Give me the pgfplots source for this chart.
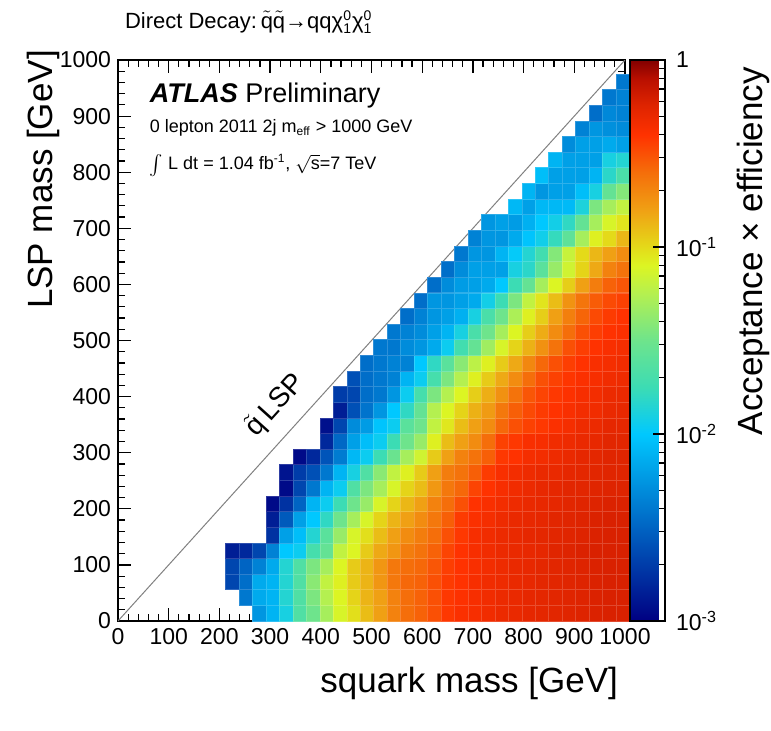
\documentclass[border=0pt]{standalone}
\usepackage{fontspec}
\setmainfont{Liberation Sans}
\setsansfont{Liberation Sans}
\usepackage{pgfplots}
\pgfplotsset{compat=1.18}
\usetikzlibrary{calc}

% position = 100*(log10(value)+3)
\pgfplotsset{
  colormap={atlas}{rgb255(0pt)=(0,0,130); rgb255(50pt)=(0,100,195); rgb255(100pt)=(0,200,255);
    rgb255(125pt)=(60,220,180); rgb255(150pt)=(110,228,140); rgb255(175pt)=(180,240,80);
    rgb255(190pt)=(220,245,35); rgb255(200pt)=(228,218,25); rgb255(220pt)=(240,160,20);
    rgb255(240pt)=(245,110,10); rgb255(260pt)=(255,50,0); rgb255(276pt)=(222,36,0);
    rgb255(290pt)=(185,15,0); rgb255(300pt)=(130,0,0)}
}
% one histogram bin: 26.55 GeV x 27.86 GeV
\pgfdeclareplotmark{cell}{%
  \pgfpathrectangle{\pgfqpoint{-3.366pt}{-3.908pt}}{\pgfqpoint{6.732pt}{7.816pt}}%
  \pgfusepathqfillstroke}

\newcommand{\ninoz}{$\mbox{χ}^{\mbox{\scriptsize 0}}_{\mbox{\scriptsize 1}}$}

\begin{document}
\begin{tikzpicture}
\begin{axis}[
    name=ax,
    scale only axis,
    width=253.5pt, height=280.5pt,
    xmin=0, xmax=1000, ymin=0, ymax=1000,
    xtick={0,100,...,1000}, ytick={0,100,...,1000},
    minor x tick num=4, minor y tick num=4,
    tick align=inside,
    major tick length=6.5pt, minor tick length=3.5pt,
    axis line style={line width=0.8pt},
    every tick/.style={black, line width=0.6pt},
    tick label style={font=\fontsize{11.5}{13}\selectfont},
    /pgf/number format/assume math mode=true,
    /pgf/number format/1000 sep={},
    colormap name=atlas,
    point meta min=-3, point meta max=0,
    colorbar,
    colorbar style={
        width=17.5pt,
        at={(parent axis.north east)}, anchor=north west, xshift=-6pt,
        axis on top,
        ytick={-3,-2,-1,0},
        yticklabels={10\textsuperscript{-3},10\textsuperscript{-2},10\textsuperscript{-1},1},
        minor ytick={-2.699,-2.523,-2.398,-2.301,-2.222,-2.155,-2.097,-2.046,
                     -1.699,-1.523,-1.398,-1.301,-1.222,-1.155,-1.097,-1.046,
                     -0.699,-0.523,-0.398,-0.301,-0.222,-0.155,-0.097,-0.046},
        ytick pos=right,
        tick align=inside,
        major tick length=6pt, minor tick length=3pt,
        every tick/.style={black, line width=0.6pt},
        yticklabel style={font=\fontsize{11.5}{13}\selectfont, xshift=2pt},
        axis line style={line width=0.6pt},
    },
    after end axis/.code={
        \node[anchor=base west, font=\fontsize{11}{13}\selectfont] at (rel axis cs:0,1.057)
            {Direct Decay:\,$\tilde{\mbox{q}}\tilde{\mbox{q}}$→qq\ninoz\ninoz};
        \node[anchor=base west] at (rel axis cs:0.049,0.925)
            {\fontsize{13.5}{15}\selectfont\textbf{\textit{ATLAS}} Preliminary};
        \node[anchor=base west, font=\fontsize{9}{11}\selectfont] at (rel axis cs:0.049,0.87)
            {0 lepton 2011 2j m\textsubscript{eff} > 1000 GeV};
        \node[anchor=base west, font=\fontsize{9}{11}\selectfont] at (rel axis cs:0.049,0.804)
            {$\int$ L dt = 1.04 fb\textsuperscript{-1}, $\sqrt{\mbox{s}}$=7 TeV};
        \node[rotate=47.9, font=\fontsize{14}{16}\selectfont] at (rel axis cs:0.31,0.385)
            {$\tilde{\mbox{q}}$\,LSP};
        \node[anchor=base east, font=\fontsize{17.5}{20}\selectfont] at (rel axis cs:1,-0.127)
            {squark mass [GeV]};
        \node[anchor=base east, rotate=90, font=\fontsize{17.5}{20}\selectfont] at (rel axis cs:-0.13,1.03)
            {LSP mass [GeV]};
        \node[anchor=base east, rotate=90, font=\fontsize{17.5}{20}\selectfont] at (rel axis cs:1.272,1)
            {Acceptance × efficiency};
    },
]

% columns: x bin centres, rows: y bin centres, v = log10(acceptance x efficiency)
\addplot[scatter, only marks, mark=cell, point meta=explicit,
    scatter/use mapped color={draw=mapped color!82!white, fill=mapped color},
    mark options={line width=0.3pt}]
    table[x=x, y=y, meta=v, row sep=\\] {
x y v\\
278.8 13.9 -2.25\\ 305.3 13.9 -2.10\\ 331.9 13.9 -1.90\\ 358.4 13.9 -1.65\\ 385.0 13.9 -1.50\\ 411.5 13.9 -1.30\\ 438.1 13.9 -1.12\\ 464.6 13.9 -1.02\\ 491.2 13.9 -0.90\\ 517.7 13.9 -0.80\\ 544.3 13.9 -0.68\\ 570.8 13.9 -0.60\\ 597.4 13.9 -0.56\\ 623.9 13.9 -0.50\\ 650.5 13.9 -0.42\\ 677.0 13.9 -0.38\\ 703.6 13.9 -0.36\\ 730.1 13.9 -0.33\\ 756.7 13.9 -0.31\\ 783.2 13.9 -0.30\\ 809.8 13.9 -0.28\\ 836.3 13.9 -0.27\\ 862.9 13.9 -0.26\\ 889.4 13.9 -0.25\\ 916.0 13.9 -0.24\\ 942.5 13.9 -0.23\\ 969.1 13.9 -0.22\\ 995.6 13.9 -0.22\\
252.2 41.8 -2.40\\ 278.8 41.8 -2.15\\ 305.3 41.8 -2.10\\ 331.9 41.8 -1.85\\ 358.4 41.8 -1.65\\ 385.0 41.8 -1.45\\ 411.5 41.8 -1.25\\ 438.1 41.8 -1.10\\ 464.6 41.8 -0.98\\ 491.2 41.8 -0.87\\ 517.7 41.8 -0.80\\ 544.3 41.8 -0.68\\ 570.8 41.8 -0.60\\ 597.4 41.8 -0.56\\ 623.9 41.8 -0.50\\ 650.5 41.8 -0.42\\ 677.0 41.8 -0.39\\ 703.6 41.8 -0.36\\ 730.1 41.8 -0.33\\ 756.7 41.8 -0.31\\ 783.2 41.8 -0.30\\ 809.8 41.8 -0.28\\ 836.3 41.8 -0.27\\ 862.9 41.8 -0.26\\ 889.4 41.8 -0.25\\ 916.0 41.8 -0.24\\ 942.5 41.8 -0.23\\ 969.1 41.8 -0.22\\ 995.6 41.8 -0.22\\
225.7 69.7 -2.65\\ 252.2 69.7 -2.45\\ 278.8 69.7 -2.15\\ 305.3 69.7 -2.10\\ 331.9 69.7 -1.85\\ 358.4 69.7 -1.65\\ 385.0 69.7 -1.40\\ 411.5 69.7 -1.20\\ 438.1 69.7 -1.08\\ 464.6 69.7 -0.95\\ 491.2 69.7 -0.87\\ 517.7 69.7 -0.76\\ 544.3 69.7 -0.64\\ 570.8 69.7 -0.58\\ 597.4 69.7 -0.56\\ 623.9 69.7 -0.50\\ 650.5 69.7 -0.43\\ 677.0 69.7 -0.40\\ 703.6 69.7 -0.36\\ 730.1 69.7 -0.33\\ 756.7 69.7 -0.32\\ 783.2 69.7 -0.30\\ 809.8 69.7 -0.29\\ 836.3 69.7 -0.27\\ 862.9 69.7 -0.26\\ 889.4 69.7 -0.25\\ 916.0 69.7 -0.24\\ 942.5 69.7 -0.23\\ 969.1 69.7 -0.22\\ 995.6 69.7 -0.22\\
225.7 97.5 -2.65\\ 252.2 97.5 -2.50\\ 278.8 97.5 -2.35\\ 305.3 97.5 -2.15\\ 331.9 97.5 -1.85\\ 358.4 97.5 -1.65\\ 385.0 97.5 -1.45\\ 411.5 97.5 -1.30\\ 438.1 97.5 -1.10\\ 464.6 97.5 -0.95\\ 491.2 97.5 -0.87\\ 517.7 97.5 -0.76\\ 544.3 97.5 -0.64\\ 570.8 97.5 -0.60\\ 597.4 97.5 -0.58\\ 623.9 97.5 -0.52\\ 650.5 97.5 -0.44\\ 677.0 97.5 -0.40\\ 703.6 97.5 -0.37\\ 730.1 97.5 -0.34\\ 756.7 97.5 -0.32\\ 783.2 97.5 -0.30\\ 809.8 97.5 -0.29\\ 836.3 97.5 -0.27\\ 862.9 97.5 -0.26\\ 889.4 97.5 -0.25\\ 916.0 97.5 -0.24\\ 942.5 97.5 -0.23\\ 969.1 97.5 -0.22\\ 995.6 97.5 -0.22\\
225.7 125.4 -2.85\\ 252.2 125.4 -2.80\\ 278.8 125.4 -2.65\\ 305.3 125.4 -2.35\\ 331.9 125.4 -2.00\\ 358.4 125.4 -1.95\\ 385.0 125.4 -1.70\\ 411.5 125.4 -1.55\\ 438.1 125.4 -1.20\\ 464.6 125.4 -1.10\\ 491.2 125.4 -0.95\\ 517.7 125.4 -0.83\\ 544.3 125.4 -0.76\\ 570.8 125.4 -0.66\\ 597.4 125.4 -0.62\\ 623.9 125.4 -0.56\\ 650.5 125.4 -0.46\\ 677.0 125.4 -0.40\\ 703.6 125.4 -0.36\\ 730.1 125.4 -0.33\\ 756.7 125.4 -0.31\\ 783.2 125.4 -0.30\\ 809.8 125.4 -0.29\\ 836.3 125.4 -0.28\\ 862.9 125.4 -0.25\\ 889.4 125.4 -0.24\\ 916.0 125.4 -0.23\\ 942.5 125.4 -0.22\\ 969.1 125.4 -0.22\\ 995.6 125.4 -0.22\\
305.3 153.2 -2.75\\ 331.9 153.2 -2.20\\ 358.4 153.2 -2.05\\ 385.0 153.2 -1.85\\ 411.5 153.2 -1.60\\ 438.1 153.2 -1.35\\ 464.6 153.2 -1.12\\ 491.2 153.2 -1.02\\ 517.7 153.2 -0.90\\ 544.3 153.2 -0.80\\ 570.8 153.2 -0.72\\ 597.4 153.2 -0.66\\ 623.9 153.2 -0.60\\ 650.5 153.2 -0.50\\ 677.0 153.2 -0.42\\ 703.6 153.2 -0.36\\ 730.1 153.2 -0.33\\ 756.7 153.2 -0.31\\ 783.2 153.2 -0.30\\ 809.8 153.2 -0.28\\ 836.3 153.2 -0.27\\ 862.9 153.2 -0.26\\ 889.4 153.2 -0.25\\ 916.0 153.2 -0.24\\ 942.5 153.2 -0.23\\ 969.1 153.2 -0.22\\ 995.6 153.2 -0.22\\
305.3 181.1 -2.85\\ 331.9 181.1 -2.55\\ 358.4 181.1 -2.20\\ 385.0 181.1 -2.00\\ 411.5 181.1 -1.80\\ 438.1 181.1 -1.50\\ 464.6 181.1 -1.30\\ 491.2 181.1 -1.12\\ 517.7 181.1 -0.98\\ 544.3 181.1 -0.87\\ 570.8 181.1 -0.80\\ 597.4 181.1 -0.72\\ 623.9 181.1 -0.64\\ 650.5 181.1 -0.55\\ 677.0 181.1 -0.43\\ 703.6 181.1 -0.38\\ 730.1 181.1 -0.35\\ 756.7 181.1 -0.32\\ 783.2 181.1 -0.30\\ 809.8 181.1 -0.29\\ 836.3 181.1 -0.28\\ 862.9 181.1 -0.26\\ 889.4 181.1 -0.25\\ 916.0 181.1 -0.24\\ 942.5 181.1 -0.23\\ 969.1 181.1 -0.22\\ 995.6 181.1 -0.22\\
305.3 208.9 -2.95\\ 331.9 208.9 -2.75\\ 358.4 208.9 -2.50\\ 385.0 208.9 -2.10\\ 411.5 208.9 -1.95\\ 438.1 208.9 -1.75\\ 464.6 208.9 -1.50\\ 491.2 208.9 -1.35\\ 517.7 208.9 -1.12\\ 544.3 208.9 -0.98\\ 570.8 208.9 -0.88\\ 597.4 208.9 -0.80\\ 623.9 208.9 -0.68\\ 650.5 208.9 -0.60\\ 677.0 208.9 -0.50\\ 703.6 208.9 -0.40\\ 730.1 208.9 -0.37\\ 756.7 208.9 -0.34\\ 783.2 208.9 -0.32\\ 809.8 208.9 -0.30\\ 836.3 208.9 -0.29\\ 862.9 208.9 -0.28\\ 889.4 208.9 -0.26\\ 916.0 208.9 -0.25\\ 942.5 208.9 -0.24\\ 969.1 208.9 -0.23\\ 995.6 208.9 -0.23\\
331.9 236.8 -2.95\\ 358.4 236.8 -2.65\\ 385.0 236.8 -2.40\\ 411.5 236.8 -2.10\\ 438.1 236.8 -1.95\\ 464.6 236.8 -1.65\\ 491.2 236.8 -1.45\\ 517.7 236.8 -1.30\\ 544.3 236.8 -1.12\\ 570.8 236.8 -0.98\\ 597.4 236.8 -0.90\\ 623.9 236.8 -0.77\\ 650.5 236.8 -0.64\\ 677.0 236.8 -0.58\\ 703.6 236.8 -0.46\\ 730.1 236.8 -0.40\\ 756.7 236.8 -0.36\\ 783.2 236.8 -0.33\\ 809.8 236.8 -0.31\\ 836.3 236.8 -0.29\\ 862.9 236.8 -0.28\\ 889.4 236.8 -0.26\\ 916.0 236.8 -0.26\\ 942.5 236.8 -0.25\\ 969.1 236.8 -0.24\\ 995.6 236.8 -0.24\\
331.9 264.7 -2.90\\ 358.4 264.7 -2.70\\ 385.0 264.7 -2.60\\ 411.5 264.7 -2.40\\ 438.1 264.7 -2.10\\ 464.6 264.7 -1.90\\ 491.2 264.7 -1.65\\ 517.7 264.7 -1.40\\ 544.3 264.7 -1.20\\ 570.8 264.7 -1.08\\ 597.4 264.7 -0.95\\ 623.9 264.7 -0.80\\ 650.5 264.7 -0.66\\ 677.0 264.7 -0.62\\ 703.6 264.7 -0.55\\ 730.1 264.7 -0.43\\ 756.7 264.7 -0.37\\ 783.2 264.7 -0.34\\ 809.8 264.7 -0.32\\ 836.3 264.7 -0.30\\ 862.9 264.7 -0.30\\ 889.4 264.7 -0.28\\ 916.0 264.7 -0.27\\ 942.5 264.7 -0.26\\ 969.1 264.7 -0.25\\ 995.6 264.7 -0.25\\
358.4 292.5 -2.95\\ 385.0 292.5 -2.80\\ 411.5 292.5 -2.58\\ 438.1 292.5 -2.38\\ 464.6 292.5 -2.08\\ 491.2 292.5 -1.95\\ 517.7 292.5 -1.75\\ 544.3 292.5 -1.52\\ 570.8 292.5 -1.30\\ 597.4 292.5 -1.15\\ 623.9 292.5 -0.95\\ 650.5 292.5 -0.80\\ 677.0 292.5 -0.68\\ 703.6 292.5 -0.62\\ 730.1 292.5 -0.55\\ 756.7 292.5 -0.42\\ 783.2 292.5 -0.40\\ 809.8 292.5 -0.35\\ 836.3 292.5 -0.34\\ 862.9 292.5 -0.32\\ 889.4 292.5 -0.30\\ 916.0 292.5 -0.28\\ 942.5 292.5 -0.27\\ 969.1 292.5 -0.25\\ 995.6 292.5 -0.25\\
411.5 320.4 -2.80\\ 438.1 320.4 -2.48\\ 464.6 320.4 -2.20\\ 491.2 320.4 -2.05\\ 517.7 320.4 -1.95\\ 544.3 320.4 -1.75\\ 570.8 320.4 -1.50\\ 597.4 320.4 -1.35\\ 623.9 320.4 -1.08\\ 650.5 320.4 -0.90\\ 677.0 320.4 -0.80\\ 703.6 320.4 -0.72\\ 730.1 320.4 -0.60\\ 756.7 320.4 -0.45\\ 783.2 320.4 -0.42\\ 809.8 320.4 -0.37\\ 836.3 320.4 -0.36\\ 862.9 320.4 -0.33\\ 889.4 320.4 -0.32\\ 916.0 320.4 -0.30\\ 942.5 320.4 -0.29\\ 969.1 320.4 -0.26\\ 995.6 320.4 -0.26\\
411.5 348.2 -2.92\\ 438.1 348.2 -2.65\\ 464.6 348.2 -2.30\\ 491.2 348.2 -2.22\\ 517.7 348.2 -2.02\\ 544.3 348.2 -1.95\\ 570.8 348.2 -1.60\\ 597.4 348.2 -1.50\\ 623.9 348.2 -1.20\\ 650.5 348.2 -1.05\\ 677.0 348.2 -0.90\\ 703.6 348.2 -0.80\\ 730.1 348.2 -0.72\\ 756.7 348.2 -0.58\\ 783.2 348.2 -0.50\\ 809.8 348.2 -0.45\\ 836.3 348.2 -0.42\\ 862.9 348.2 -0.38\\ 889.4 348.2 -0.35\\ 916.0 348.2 -0.32\\ 942.5 348.2 -0.31\\ 969.1 348.2 -0.28\\ 995.6 348.2 -0.28\\
438.1 376.1 -2.85\\ 464.6 376.1 -2.60\\ 491.2 376.1 -2.42\\ 517.7 376.1 -2.25\\ 544.3 376.1 -2.00\\ 570.8 376.1 -1.80\\ 597.4 376.1 -1.55\\ 623.9 376.1 -1.25\\ 650.5 376.1 -1.10\\ 677.0 376.1 -0.98\\ 703.6 376.1 -0.86\\ 730.1 376.1 -0.78\\ 756.7 376.1 -0.64\\ 783.2 376.1 -0.55\\ 809.8 376.1 -0.48\\ 836.3 376.1 -0.43\\ 862.9 376.1 -0.40\\ 889.4 376.1 -0.37\\ 916.0 376.1 -0.34\\ 942.5 376.1 -0.33\\ 969.1 376.1 -0.30\\ 995.6 376.1 -0.29\\
438.1 404.0 -2.70\\ 464.6 404.0 -2.65\\ 491.2 404.0 -2.45\\ 517.7 404.0 -2.40\\ 544.3 404.0 -2.25\\ 570.8 404.0 -1.95\\ 597.4 404.0 -1.70\\ 623.9 404.0 -1.45\\ 650.5 404.0 -1.25\\ 677.0 404.0 -1.10\\ 703.6 404.0 -0.96\\ 730.1 404.0 -0.85\\ 756.7 404.0 -0.74\\ 783.2 404.0 -0.62\\ 809.8 404.0 -0.52\\ 836.3 404.0 -0.46\\ 862.9 404.0 -0.42\\ 889.4 404.0 -0.39\\ 916.0 404.0 -0.36\\ 942.5 404.0 -0.34\\ 969.1 404.0 -0.31\\ 995.6 404.0 -0.30\\
464.6 431.8 -2.60\\ 491.2 431.8 -2.45\\ 517.7 431.8 -2.40\\ 544.3 431.8 -2.35\\ 570.8 431.8 -2.10\\ 597.4 431.8 -1.95\\ 623.9 431.8 -1.70\\ 650.5 431.8 -1.45\\ 677.0 431.8 -1.25\\ 703.6 431.8 -1.08\\ 730.1 431.8 -0.95\\ 756.7 431.8 -0.83\\ 783.2 431.8 -0.72\\ 809.8 431.8 -0.60\\ 836.3 431.8 -0.50\\ 862.9 431.8 -0.45\\ 889.4 431.8 -0.41\\ 916.0 431.8 -0.38\\ 942.5 431.8 -0.36\\ 969.1 431.8 -0.33\\ 995.6 431.8 -0.32\\
491.2 459.7 -2.45\\ 517.7 459.7 -2.40\\ 544.3 459.7 -2.35\\ 570.8 459.7 -2.35\\ 597.4 459.7 -2.00\\ 623.9 459.7 -1.80\\ 650.5 459.7 -1.60\\ 677.0 459.7 -1.40\\ 703.6 459.7 -1.22\\ 730.1 459.7 -1.08\\ 756.7 459.7 -0.95\\ 783.2 459.7 -0.83\\ 809.8 459.7 -0.70\\ 836.3 459.7 -0.58\\ 862.9 459.7 -0.50\\ 889.4 459.7 -0.44\\ 916.0 459.7 -0.40\\ 942.5 459.7 -0.37\\ 969.1 459.7 -0.35\\ 995.6 459.7 -0.33\\
517.7 487.5 -2.40\\ 544.3 487.5 -2.40\\ 570.8 487.5 -2.30\\ 597.4 487.5 -2.25\\ 623.9 487.5 -2.15\\ 650.5 487.5 -1.95\\ 677.0 487.5 -1.72\\ 703.6 487.5 -1.55\\ 730.1 487.5 -1.32\\ 756.7 487.5 -1.12\\ 783.2 487.5 -0.98\\ 809.8 487.5 -0.86\\ 836.3 487.5 -0.74\\ 862.9 487.5 -0.62\\ 889.4 487.5 -0.50\\ 916.0 487.5 -0.44\\ 942.5 487.5 -0.40\\ 969.1 487.5 -0.37\\ 995.6 487.5 -0.35\\
544.3 515.4 -2.40\\ 570.8 515.4 -2.35\\ 597.4 515.4 -2.30\\ 623.9 515.4 -2.20\\ 650.5 515.4 -2.10\\ 677.0 515.4 -1.90\\ 703.6 515.4 -1.68\\ 730.1 515.4 -1.50\\ 756.7 515.4 -1.30\\ 783.2 515.4 -1.10\\ 809.8 515.4 -0.96\\ 836.3 515.4 -0.84\\ 862.9 515.4 -0.72\\ 889.4 515.4 -0.60\\ 916.0 515.4 -0.50\\ 942.5 515.4 -0.44\\ 969.1 515.4 -0.40\\ 995.6 515.4 -0.38\\
570.8 543.3 -2.45\\ 597.4 543.3 -2.35\\ 623.9 543.3 -2.25\\ 650.5 543.3 -2.20\\ 677.0 543.3 -2.12\\ 703.6 543.3 -1.90\\ 730.1 543.3 -1.68\\ 756.7 543.3 -1.50\\ 783.2 543.3 -1.28\\ 809.8 543.3 -1.08\\ 836.3 543.3 -0.96\\ 862.9 543.3 -0.80\\ 889.4 543.3 -0.67\\ 916.0 543.3 -0.57\\ 942.5 543.3 -0.48\\ 969.1 543.3 -0.43\\ 995.6 543.3 -0.40\\
597.4 571.1 -2.45\\ 623.9 571.1 -2.25\\ 650.5 571.1 -2.25\\ 677.0 571.1 -2.20\\ 703.6 571.1 -2.15\\ 730.1 571.1 -1.92\\ 756.7 571.1 -1.75\\ 783.2 571.1 -1.45\\ 809.8 571.1 -1.20\\ 836.3 571.1 -1.04\\ 862.9 571.1 -0.90\\ 889.4 571.1 -0.75\\ 916.0 571.1 -0.63\\ 942.5 571.1 -0.54\\ 969.1 571.1 -0.48\\ 995.6 571.1 -0.45\\
623.9 599.0 -2.45\\ 650.5 599.0 -2.30\\ 677.0 599.0 -2.22\\ 703.6 599.0 -2.20\\ 730.1 599.0 -2.15\\ 756.7 599.0 -2.00\\ 783.2 599.0 -1.75\\ 809.8 599.0 -1.55\\ 836.3 599.0 -1.30\\ 862.9 599.0 -1.10\\ 889.4 599.0 -0.96\\ 916.0 599.0 -0.80\\ 942.5 599.0 -0.66\\ 969.1 599.0 -0.56\\ 995.6 599.0 -0.52\\
650.5 626.8 -2.45\\ 677.0 626.8 -2.30\\ 703.6 626.8 -2.20\\ 730.1 626.8 -2.20\\ 756.7 626.8 -2.20\\ 783.2 626.8 -1.90\\ 809.8 626.8 -1.82\\ 836.3 626.8 -1.60\\ 862.9 626.8 -1.35\\ 889.4 626.8 -1.15\\ 916.0 626.8 -0.98\\ 942.5 626.8 -0.83\\ 969.1 626.8 -0.68\\ 995.6 626.8 -0.62\\
677.0 654.7 -2.40\\ 703.6 654.7 -2.25\\ 730.1 654.7 -2.25\\ 756.7 654.7 -2.10\\ 783.2 654.7 -1.98\\ 809.8 654.7 -1.85\\ 836.3 654.7 -1.72\\ 862.9 654.7 -1.42\\ 889.4 654.7 -1.18\\ 916.0 654.7 -1.00\\ 942.5 654.7 -0.88\\ 969.1 654.7 -0.80\\ 995.6 654.7 -0.72\\
703.6 682.6 -2.35\\ 730.1 682.6 -2.25\\ 756.7 682.6 -2.25\\ 783.2 682.6 -2.15\\ 809.8 682.6 -2.02\\ 836.3 682.6 -1.93\\ 862.9 682.6 -1.78\\ 889.4 682.6 -1.58\\ 916.0 682.6 -1.30\\ 942.5 682.6 -1.08\\ 969.1 682.6 -1.00\\ 995.6 682.6 -0.88\\
730.1 710.4 -2.25\\ 756.7 710.4 -2.20\\ 783.2 710.4 -2.22\\ 809.8 710.4 -2.12\\ 836.3 710.4 -2.00\\ 862.9 710.4 -1.92\\ 889.4 710.4 -1.80\\ 916.0 710.4 -1.55\\ 942.5 710.4 -1.30\\ 969.1 710.4 -1.12\\ 995.6 710.4 -1.04\\
783.2 738.3 -2.08\\ 809.8 738.3 -2.20\\ 836.3 738.3 -2.08\\ 862.9 738.3 -2.08\\ 889.4 738.3 -2.07\\ 916.0 738.3 -1.88\\ 942.5 738.3 -1.45\\ 969.1 738.3 -1.30\\ 995.6 738.3 -1.20\\
809.8 766.1 -2.10\\ 836.3 766.1 -2.25\\ 862.9 766.1 -2.20\\ 889.4 766.1 -2.20\\ 916.0 766.1 -2.05\\ 942.5 766.1 -1.90\\ 969.1 766.1 -1.55\\ 995.6 766.1 -1.42\\
836.3 794.0 -2.05\\ 862.9 794.0 -2.20\\ 889.4 794.0 -2.20\\ 916.0 794.0 -2.20\\ 942.5 794.0 -2.10\\ 969.1 794.0 -1.82\\ 995.6 794.0 -1.68\\
862.9 821.9 -2.10\\ 889.4 821.9 -2.20\\ 916.0 821.9 -2.20\\ 942.5 821.9 -2.20\\ 969.1 821.9 -1.90\\ 995.6 821.9 -1.85\\
889.4 849.7 -2.30\\ 916.0 849.7 -2.20\\ 942.5 849.7 -2.20\\ 969.1 849.7 -2.15\\ 995.6 849.7 -2.20\\
916.0 877.6 -2.35\\ 942.5 877.6 -2.25\\ 969.1 877.6 -2.28\\ 995.6 877.6 -2.30\\
942.5 905.4 -2.45\\ 969.1 905.4 -2.32\\ 995.6 905.4 -2.35\\
969.1 933.3 -2.40\\ 995.6 933.3 -2.35\\
995.6 961.2 -2.40\\
};

\addplot[color=gray, line width=0.5pt, mark=none] coordinates {(0,0) (1000,1000)};
\end{axis}
\pgfresetboundingbox
\path[use as bounding box] ($(ax.south west)+(-59pt,-54.5pt)$) rectangle ($(ax.north east)+(73pt,30pt)$);
\end{tikzpicture}
\end{document}
